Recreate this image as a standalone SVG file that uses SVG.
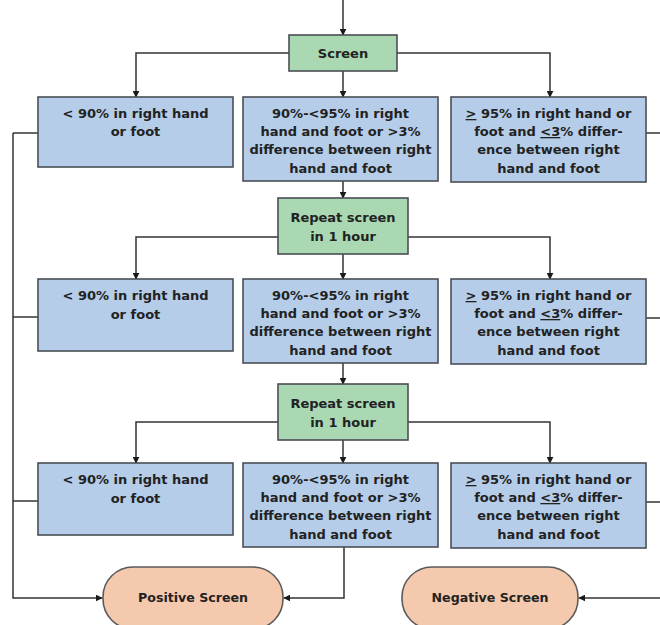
<svg xmlns="http://www.w3.org/2000/svg" width="660" height="625" viewBox="0 0 660 625">
<defs>
<marker id="ah" viewBox="0 0 10 10" refX="9" refY="5" markerWidth="7" markerHeight="7" markerUnits="userSpaceOnUse" orient="auto">
<path d="M0,0 L10,5 L0,10 Z" fill="#1a1a1a"/>
</marker>
<style>
.blue{fill:#b5cde9;stroke:#4a4f55;stroke-width:1.6}
.green{fill:#a9d8b3;stroke:#4a4f55;stroke-width:1.6}
.orange{fill:#f5c9ae;stroke:#5a5a5a;stroke-width:1.6}
text{font-family:"DejaVu Sans","Liberation Sans",sans-serif;font-weight:bold;font-size:13px;fill:#222;text-anchor:middle}
.term{font-size:12.6px}
.u{text-decoration:underline}
.c{fill:none;stroke:#333;stroke-width:1.5}
.ca{fill:none;stroke:#333;stroke-width:1.5;marker-end:url(#ah)}
</style>
</defs>
<rect width="660" height="625" fill="#fff"/>
<g id="connectors">
<path class="ca" d="M343,0 V35"/>
<path class="ca" d="M289,53 H136 V97"/>
<path class="ca" d="M343,71 V97"/>
<path class="ca" d="M397,53 H550 V97"/>
<path class="ca" d="M343,181 V198"/>
<path class="ca" d="M278,237 H136 V279"/>
<path class="ca" d="M343,254 V279"/>
<path class="ca" d="M408,237 H550 V279"/>
<path class="ca" d="M343,363 V384"/>
<path class="ca" d="M278,422 H136 V463"/>
<path class="ca" d="M343,440 V463"/>
<path class="ca" d="M408,422 H550 V463"/>
<path class="c" d="M38,133 H13"/>
<path class="c" d="M38,317 H13"/>
<path class="c" d="M38,501 H13"/>
<path class="ca" d="M13,133 V598 H102"/>
<path class="ca" d="M344,547 V598 H284"/>
<path class="c" d="M646,133 H660"/>
<path class="c" d="M646,318 H660"/>
<path class="c" d="M646,502 H660"/>
<path class="ca" d="M660,598 H579"/>
</g>
<g id="screen">
<rect class="green" x="289" y="35" width="108" height="36"/>
<text x="343" y="57.5">Screen</text>
</g>
<g id="r1-low">
<rect class="blue" x="38" y="97" width="195" height="70"/>
<text x="135.5" y="117.5">&lt; 90% in right hand</text>
<text x="135.5" y="136">or foot</text>
</g>
<g id="r1-mid">
<rect class="blue" x="243" y="97" width="195" height="84"/>
<text x="340.5" y="118">90%-&lt;95% in right</text>
<text x="340.5" y="136">hand and foot or &gt;3%</text>
<text x="340.5" y="154">difference between right</text>
<text x="340.5" y="172.5">hand and foot</text>
</g>
<g id="r1-high">
<rect class="blue" x="451" y="97" width="195" height="85"/>
<text x="548.5" y="118"><tspan class="u">&gt;</tspan> 95% in right hand or</text>
<text x="548.5" y="136">foot and <tspan class="u">&lt;3</tspan>% differ-</text>
<text x="548.5" y="154">ence between right</text>
<text x="548.5" y="172.5">hand and foot</text>
</g>
<g id="repeat1">
<rect class="green" x="278" y="198" width="130" height="56"/>
<text x="343" y="221.5">Repeat screen</text>
<text x="343" y="240.5">in 1 hour</text>
</g>
<g id="r2-low">
<rect class="blue" x="38" y="279" width="195" height="72"/>
<text x="135.5" y="300">&lt; 90% in right hand</text>
<text x="135.5" y="318.5">or foot</text>
</g>
<g id="r2-mid">
<rect class="blue" x="243" y="279" width="195" height="84"/>
<text x="340.5" y="300">90%-&lt;95% in right</text>
<text x="340.5" y="318">hand and foot or &gt;3%</text>
<text x="340.5" y="336">difference between right</text>
<text x="340.5" y="354.5">hand and foot</text>
</g>
<g id="r2-high">
<rect class="blue" x="451" y="279" width="195" height="85"/>
<text x="548.5" y="300"><tspan class="u">&gt;</tspan> 95% in right hand or</text>
<text x="548.5" y="318">foot and <tspan class="u">&lt;3</tspan>% differ-</text>
<text x="548.5" y="336">ence between right</text>
<text x="548.5" y="354.5">hand and foot</text>
</g>
<g id="repeat2">
<rect class="green" x="278" y="384" width="130" height="56"/>
<text x="343" y="407.5">Repeat screen</text>
<text x="343" y="426.5">in 1 hour</text>
</g>
<g id="r3-low">
<rect class="blue" x="38" y="463" width="195" height="72"/>
<text x="135.5" y="484">&lt; 90% in right hand</text>
<text x="135.5" y="502.5">or foot</text>
</g>
<g id="r3-mid">
<rect class="blue" x="243" y="463" width="195" height="84"/>
<text x="340.5" y="484">90%-&lt;95% in right</text>
<text x="340.5" y="502">hand and foot or &gt;3%</text>
<text x="340.5" y="520">difference between right</text>
<text x="340.5" y="538.5">hand and foot</text>
</g>
<g id="r3-high">
<rect class="blue" x="451" y="463" width="195" height="85"/>
<text x="548.5" y="484"><tspan class="u">&gt;</tspan> 95% in right hand or</text>
<text x="548.5" y="502">foot and <tspan class="u">&lt;3</tspan>% differ-</text>
<text x="548.5" y="520">ence between right</text>
<text x="548.5" y="538.5">hand and foot</text>
</g>
<g id="positive">
<rect class="orange" x="103" y="567" width="180" height="62" rx="30" ry="30"/>
<text class="term" x="193" y="602">Positive Screen</text>
</g>
<g id="negative">
<rect class="orange" x="402" y="567" width="176" height="62" rx="30" ry="30"/>
<text class="term" x="490" y="602">Negative Screen</text>
</g>
</svg>
